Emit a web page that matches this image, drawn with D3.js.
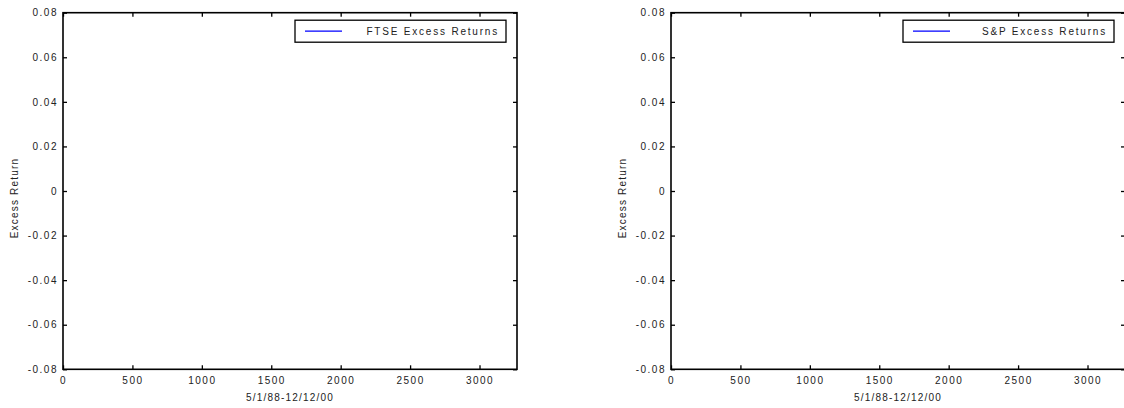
<!DOCTYPE html>
<html>
<head>
<meta charset="utf-8">
<script src="https://cdn.jsdelivr.net/npm/d3@7"></script>
<style>
  body { margin: 0; background: #fff; }
  svg { display: block; font-family: "Liberation Sans", Arial, sans-serif; }
  .tick text { font-size: 10px; letter-spacing: 1.5px; fill: #222; }
  .tick line { stroke: #000; stroke-width: 1.3; }
</style>
</head>
<body>
<svg id="chart" width="1124" height="408"></svg>
<script>
// data: both panels show no visible series
var xTicks = [0, 500, 1000, 1500, 2000, 2500, 3000];
var yTicks = [-0.08, -0.06, -0.04, -0.02, 0, 0.02, 0.04, 0.06, 0.08];
var xDomain = [0, 3270];
var yDomain = [-0.08, 0.08];
var seriesNames = ['FTSE Excess Returns', 'S&P Excess Returns'];
var ftseReturns = [];
var spReturns = [];
var xLabel = '5/1/88-12/12/00';
var yLabel = 'Excess Return';

var svg = d3.select('#chart');
var plotTop = 12.7, plotBottom = 369.3;
var panels = [
    { left: 63, right: 517, name: seriesNames[0], values: ftseReturns },
    { left: 671, right: 1125, name: seriesNames[1], values: spReturns }
];

function fmt(v) {
    return v === 0 ? '0' : String(+v.toFixed(2));
}

panels.forEach(function (p) {
    var x = d3.scaleLinear().domain(xDomain).range([p.left, p.right]);
    var y = d3.scaleLinear().domain(yDomain).range([plotBottom, plotTop]);
    var g = svg.append('g');

    g.append('g').attr('transform', 'translate(0,' + plotBottom + ')')
        .call(d3.axisBottom(x).tickValues(xTicks).tickSize(-4).tickPadding(8).tickFormat(d3.format('d')))
        .call(function (a) { a.select('.domain').remove(); });
    g.append('g').attr('transform', 'translate(0,' + plotTop + ')')
        .call(d3.axisTop(x).tickValues(xTicks).tickSize(-4).tickFormat(''))
        .call(function (a) { a.select('.domain').remove(); });
    g.append('g').attr('transform', 'translate(' + p.left + ',0)')
        .call(d3.axisLeft(y).tickValues(yTicks).tickSize(-4).tickPadding(5).tickFormat(fmt))
        .call(function (a) { a.select('.domain').remove(); });
    g.append('g').attr('transform', 'translate(' + p.right + ',0)')
        .call(d3.axisRight(y).tickValues(yTicks).tickSize(-4).tickFormat(''))
        .call(function (a) { a.select('.domain').remove(); });

    g.append('rect')
        .attr('x', p.left).attr('y', plotTop)
        .attr('width', p.right - p.left).attr('height', plotBottom - plotTop)
        .attr('fill', 'none').attr('stroke', '#000').attr('stroke-width', 1.6);

    // series line (empty in the reference)
    var line = d3.line()
        .x(function (d, i) { return x(i); })
        .y(function (d) { return y(d); });
    g.append('path').datum(p.values)
        .attr('fill', 'none').attr('stroke', '#0000ff').attr('stroke-width', 1)
        .attr('d', line);

    g.append('text')
        .attr('x', (p.left + p.right) / 2).attr('y', 401)
        .attr('text-anchor', 'middle')
        .style('font-size', '10px').style('letter-spacing', '1.2px').attr('fill', '#222')
        .text(xLabel);

    g.append('text')
        .attr('transform', 'translate(' + (p.left - 45) + ',198) rotate(-90)')
        .attr('text-anchor', 'middle')
        .style('font-size', '10px').style('letter-spacing', '1.2px').attr('fill', '#222')
        .text(yLabel);

    // legend
    var lx = p.right - 222, ly = plotTop + 7.5;
    var lg = g.append('g');
    lg.append('rect')
        .attr('x', lx).attr('y', ly).attr('width', 211).attr('height', 22)
        .attr('fill', '#fff').attr('stroke', '#000').attr('stroke-width', 1.3);
    lg.append('line')
        .attr('x1', lx + 10).attr('x2', lx + 47)
        .attr('y1', ly + 11).attr('y2', ly + 11)
        .attr('stroke', '#0000ff').attr('stroke-width', 1.2);
    lg.append('text')
        .attr('x', lx + 204).attr('y', ly + 14.5)
        .attr('text-anchor', 'end')
        .style('font-size', '10px').style('letter-spacing', '1.8px').attr('fill', '#222')
        .text(p.name);
});
</script>
</body>
</html>
